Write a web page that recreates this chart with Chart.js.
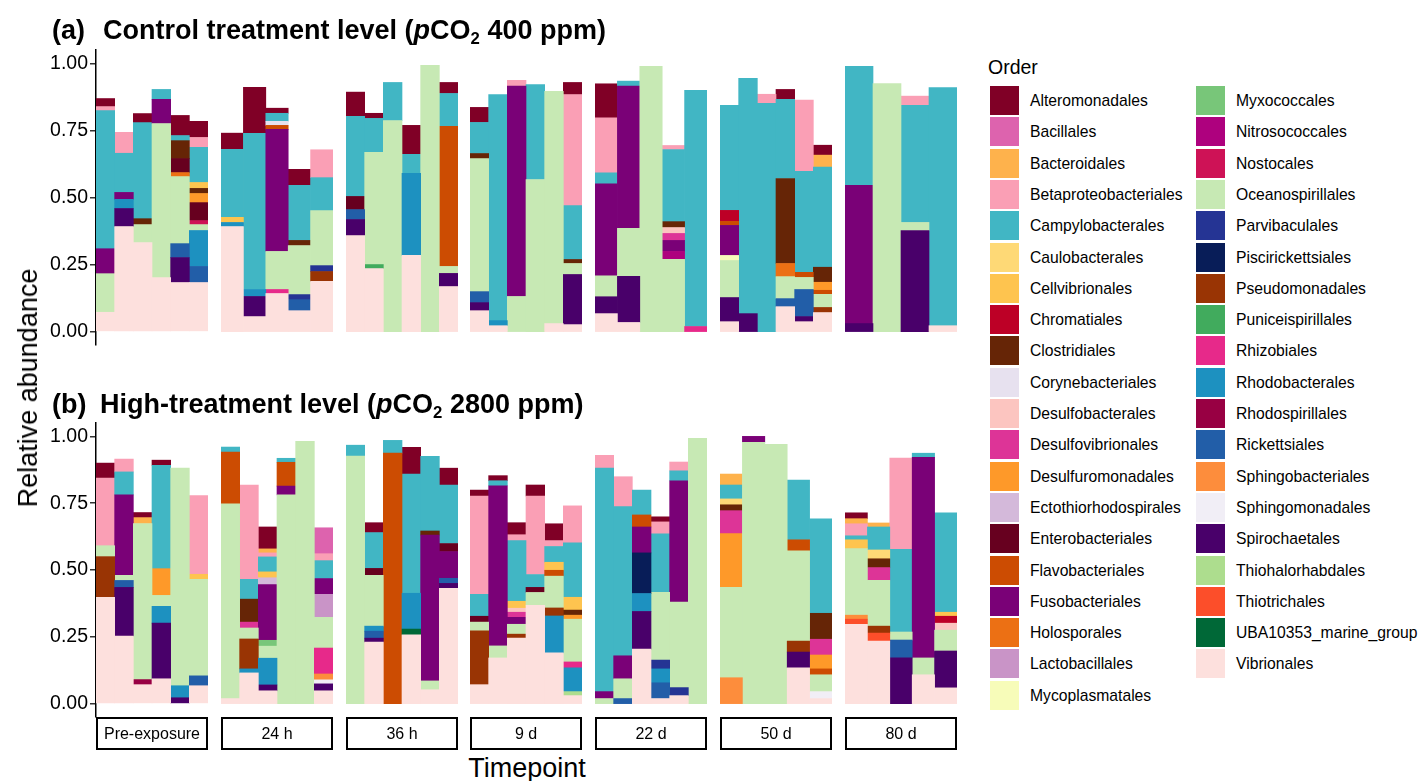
<!DOCTYPE html>
<html>
<head>
<meta charset="utf-8">
<script src="https://cdn.jsdelivr.net/npm/chart.js@4.4.1/dist/chart.umd.min.js"></script>
<style>
  body { margin: 0; background: #fff; font-family: "Liberation Sans", Arial, sans-serif; color: #000; }
  #page { position: relative; width: 1424px; height: 781px; overflow: hidden; }
  #page canvas, .abs { position: absolute; }
  .tag, .title { font-weight: bold; font-size: 27px; line-height: 30px; white-space: nowrap; }
  .title sub { font-size: 0.62em; vertical-align: -0.3em; line-height: 0; }
  .axis-title { font-size: 27px; line-height: 30px; white-space: nowrap; }
  .strip { box-sizing: border-box; border: 2px solid #000; height: 33px; font-size: 16px;
           line-height: 29px; text-align: center; }
  .key { width: 29px; height: 29px; }
  .key-label { font-size: 15.7px; line-height: 29px; white-space: nowrap; }
</style>
</head>
<body>
<div id="page"></div>
<script>
// orders (legend order) with short codes and fill colours
const orders = ['Alteromonadales', 'Bacillales', 'Bacteroidales', 'Betaproteobacteriales', 'Campylobacterales',
  'Caulobacterales', 'Cellvibrionales', 'Chromatiales', 'Clostridiales', 'Corynebacteriales', 'Desulfobacterales',
  'Desulfovibrionales', 'Desulfuromonadales', 'Ectothiorhodospirales', 'Enterobacteriales', 'Flavobacteriales',
  'Fusobacteriales', 'Holosporales', 'Lactobacillales', 'Mycoplasmatales', 'Myxococcales', 'Nitrosococcales',
  'Nostocales', 'Oceanospirillales', 'Parvibaculales', 'Piscirickettsiales', 'Pseudomonadales',
  'Puniceispirillales', 'Rhizobiales', 'Rhodobacterales', 'Rhodospirillales', 'Rickettsiales',
  'Sphingobacteriales', 'Sphingomonadales', 'Spirochaetales', 'Thiohalorhabdales', 'Thiotrichales',
  'UBA10353_marine_group', 'Vibrionales'];
const codes = ['Alt', 'Bac', 'Bct', 'Bet', 'Cam', 'Cau', 'Cel', 'Chr', 'Clo', 'Cor', 'Dsb', 'Dsv', 'Dsf', 'Ect',
  'Ent', 'Fla', 'Fus', 'Hol', 'Lac', 'Myc', 'Myx', 'Nit', 'Nos', 'Oce', 'Par', 'Pis', 'Pse', 'Pun', 'Rhi', 'Rhb',
  'Rhs', 'Ric', 'Sbc', 'Smo', 'Spi', 'Thh', 'Tht', 'UBA', 'Vib'];
const colours = ['#800026', '#dd63ae', '#feb24c', '#fa9fb5', '#41b6c4', '#fed976', '#fec44f', '#bd0026',
  '#662506', '#e7e1ef', '#fcc5c0', '#dd3497', '#fe9929', '#d4b9da', '#67001f', '#cc4c02', '#7a0177', '#ec7014',
  '#c994c7', '#f7fcb9', '#78c679', '#ae017e', '#ce1256', '#c7e9b4', '#253494', '#081d58', '#993404', '#41ab5d',
  '#e7298a', '#1d91c0', '#980043', '#225ea8', '#fd8d3c', '#f1eef6', '#49006a', '#addd8e', '#fc4e2a', '#006837',
  '#fde0dd'];

const timepoints = ['Pre-exposure', '24 h', '36 h', '9 d', '22 d', '50 d', '80 d'];
const yTicks = [0, 0.25, 0.5, 0.75, 1];

// (a) control, one object per sample
const aPre = [
  {Vib: .072, Oce: .144, Fus: .093, Cam: .515, Bet: .015, Alt: .030},
  {Vib: .392, Spi: .067, Rhb: .034, Fus: .026, Cam: .146, Bet: .078},
  {Vib: .332, Oce: .067, Clo: .022, Cam: .358, Alt: .034},
  {Vib: .201, Oce: .575, Fus: .090, Cam: .037},
  {Vib: .183, Spi: .093, Ric: .052, Oce: .250, Hol: .015, Ent: .052, Clo: .067, Cam: .019, Alt: .075},
  {Vib: .183, Ric: .060, Rhb: .134, Oce: .022, Nos: .015, Ent: .067, Dsf: .034, Clo: .019, Cel: .022, Cam: .131, Bet: .037, Alt: .060},
];
const a24h = [
  {Vib: .392, Rhb: .015, Cel: .019, Cam: .254, Alt: .060},
  {Vib: .056, Spi: .075, Rhb: .026, Cam: .582, Alt: .172},
  {Vib: .142, Rhi: .015, Oce: .142, Fus: .455, Fla: .015, Cor: .015, Cam: .030, Alt: .019},
  {Vib: .078, Ric: .041, Par: .019, Oce: .183, Clo: .019, Cam: .205, Alt: .060},
  {Vib: .187, Pse: .037, Par: .022, Oce: .205, Cam: .123, Bet: .104},
];
const a36h = [
  {Vib: .358, Spi: .060, Ric: .037, Ent: .049, Cam: .299, Alt: .090},
  {Vib: .235, Pun: .015, Oce: .418, Cam: .127, Alt: .019},
  {Oce: .787, Cam: .142},
  {Vib: .284, Rhb: .306, Cam: .071, Alt: .108},
  {Oce: .993},
  {Vib: .168, Spi: .049, Oce: .026, Fla: .522, Cam: .123, Alt: .041},
];
const a9d = [
  {Vib: .078, Spi: .030, Ric: .041, Oce: .496, Clo: .019, Cam: .116, Alt: .056},
  {Vib: .022, Rhb: .019, Cam: .843},
  {Oce: .131, Fus: .784, Bet: .022},
  {Oce: .567, Cam: .354},
  {Vib: .030, Oce: .866},
  {Vib: .026, Spi: .187, Oce: .041, Clo: .015, Cam: .201, Bet: .414, Alt: .045},
];
const a22d = [
  {Vib: .067, Spi: .063, Oce: .078, Fus: .343, Cam: .041, Bet: .205, Alt: .127},
  {Vib: .034, Spi: .172, Oce: .179, Fus: .530, Cam: .019},
  {Oce: .989},
  {Oce: .269, Nit: .030, Fus: .041, Dsv: .026, Dsb: .022, Clo: .022, Cam: .269, Bet: .015},
  {Rhi: .019, Cam: .881},
];
const a50d = [
  {Vib: .037, Spi: .090, Oce: .138, Myc: .019, Fus: .112, Fla: .015, Chr: .041, Cam: .392},
  {Spi: .067, Cam: .877},
  {Cam: .851, Bet: .034},
  {Vib: .093, Ric: .030, Oce: .082, Hol: .049, Clo: .317, Cam: .295, Alt: .037},
  {Vib: .037, Spi: .019, Ric: .101, Oce: .045, Fla: .019, Cam: .377, Bet: .265},
  {Vib: .071, Pse: .019, Oce: .049, Fla: .015, Dsf: .030, Clo: .056, Cam: .373, Bct: .045, Alt: .037},
];
const a80d = [
  {Spi: .030, Fus: .515, Cam: .444},
  {Oce: .925},
  {Spi: .377, Oce: .030, Cam: .437, Bet: .034},
  {Vib: .022, Cam: .888},
];

// (b) high treatment
const bPre = [
  {Vib: .398, Pse: .152, Oce: .041, Bet: .253, Alt: .056},
  {Vib: .253, Spi: .182, Ric: .026, Oce: .019, Fus: .301, Cam: .086, Bet: .048},
  {Vib: .071, Rhs: .019, Oce: .584, Bct: .022, Alt: .019},
  {Vib: .093, Spi: .208, Rhb: .063, Oce: .041, Dsf: .100, Cam: .387, Alt: .019},
  {Spi: .022, Rhb: .045, Oce: .814},
  {Vib: .067, Ric: .037, Oce: .361, Cel: .019, Bet: .294},
];
const b24h = [
  {Vib: .019, Oce: .729, Fla: .193, Cam: .019},
  {Vib: .115, Rhb: .015, Pse: .112, Oce: .041, Dsv: .022, Clo: .086, Cam: .074, Bet: .353},
  {Vib: .048, Spi: .022, Rhb: .100, Oce: .045, Myx: .022, Fus: .208, Ect: .026, Cel: .022, Cam: .056, Bet: .015, Bct: .015, Alt: .082},
  {Oce: .781, Fus: .033, Fla: .089, Cam: .015},
  {Oce: .981},
  {Vib: .048, Spi: .026, Smo: .015, Sbc: .022, Rhi: .097, Oce: .115, Lac: .086, Fus: .059, Cam: .067, Bet: .026, Bac: .097},
];
const b36h = [
  {Oce: .926, Cam: .041},
  {Vib: .230, Spi: .015, Ric: .026, Rhb: .019, Oce: .190, Ent: .026, Cam: .134, Alt: .037},
  {Fla: .937, Cam: .048},
  {Vib: .257, UBA: .022, Rhb: .134, Cam: .446, Alt: .100},
  {Vib: .052, Oce: .033, Fus: .546, Clo: .015, Cam: .279},
  {Vib: .431, Spi: .019, Ric: .019, Fus: .100, Ent: .030, Cam: .219, Alt: .063},
];
const b9d = [
  {Vib: .071, Pse: .201, Oce: .033, Ent: .022, Cam: .082, Bet: .368, Alt: .022},
  {Vib: .171, Oce: .045, Fus: .599, Cam: .019, Alt: .019},
  {Vib: .245, Pse: .015, Oce: .037, Fus: .026, Dsv: .019, Dsb: .015, Cel: .026, Cam: .227, Bet: .022, Alt: .045},
  {Vib: .368, Oce: .048, Ent: .019, Cam: .048, Bet: .294, Alt: .041},
  {Vib: .190, Rhb: .138, Pse: .030, Oce: .119, Fla: .022, Cel: .030, Cam: .059, Bet: .022, Alt: .063},
  {Vib: .030, Thh: .015, Rhb: .089, Rhi: .022, Oce: .160, Dsf: .015, Clo: .019, Cel: .048, Cam: .204, Bet: .138},
];
const b22d = [
  {Oce: .019, Fus: .026, Cam: .836, Bet: .048},
  {Ric: .019, Oce: .074, Fus: .086, Cam: .558, Bet: .112},
  {Vib: .204, Spi: .141, Rhb: .067, Pis: .152, Fus: .097, Fla: .045, Cam: .093},
  {Vib: .019, Ric: .059, Rhb: .052, Par: .033, Oce: .253, Cam: .219, Bet: .045, Alt: .019},
  {Vib: .030, Par: .030, Oce: .320, Fus: .454, Cam: .037, Bet: .033},
  {Oce: .993},
];
const b50d = [
  {Sbc: .097, Oce: .338, Dsf: .201, Dsv: .086, Clo: .022, Cau: .022, Cam: .052, Bct: .041},
  {Oce: .978, Fus: .022},
  {Oce: .970},
  {Vib: .134, Spi: .059, Pse: .041, Oce: .338, Fla: .041, Cam: .223},
  {Vib: .019, Smo: .026, Oce: .063, Fla: .022, Dsf: .052, Dsv: .059, Clo: .097, Cam: .353},
];
const b80d = [
  {Vib: .297, Tht: .019, Sbc: .015, Oce: .249, Cel: .033, Cam: .015, Bet: .045, Bct: .019, Alt: .022},
  {Vib: .234, Tht: .030, Pse: .026, Oce: .171, Dsv: .048, Clo: .033, Cau: .033, Cam: .086, Bct: .015},
  {Spi: .171, Ric: .067, Oce: .030, Cam: .309, Bet: .342},
  {Vib: .108, Oce: .063, Fus: .751, Cam: .015},
  {Vib: .059, Spi: .138, Oce: .078, Dsb: .026, Chr: .026, Cel: .015, Cam: .372},
];

const panelA = [aPre, a24h, a36h, a9d, a22d, a50d, a80d];
const panelB = [bPre, b24h, b36h, b9d, b22d, b50d, b80d];

// layout
const page = document.getElementById('page');
const facetX0 = 96, facetStep = 124.8, facetW = 112;
const axisW = 56, pad = 15;
const fontFam = '"Liberation Sans", Arial, sans-serif';

function addDiv(cls, html, style) {
  const d = document.createElement('div');
  d.className = 'abs ' + cls;
  d.innerHTML = html;
  Object.assign(d.style, style);
  page.appendChild(d);
  return d;
}

// ggplot stacks the first level on top, so go bottom-up from the end
const stackCodes = codes.slice().reverse();

function drawFacet(samples, idx, top, height) {
  const first = idx === 0;
  const left = Math.round(facetX0 + facetStep * idx) - (first ? axisW : 0);
  const canvas = document.createElement('canvas');
  canvas.width = facetW + (first ? axisW : 0);
  canvas.height = height + 2 * pad;
  canvas.style.left = left + 'px';
  canvas.style.top = (top - pad) + 'px';
  page.appendChild(canvas);

  new Chart(canvas, {
    type: 'bar',
    data: {
      labels: samples.map((s, i) => 'S' + (i + 1)),
      datasets: stackCodes.map(code => {
        const k = codes.indexOf(code);
        return {
          label: orders[k],
          data: samples.map(s => (s[code] === undefined ? null : s[code])),
          backgroundColor: colours[k],
          borderWidth: 0,
          categoryPercentage: 1,
          barPercentage: 1
        };
      })
    },
    options: {
      responsive: false,
      animation: false,
      layout: { padding: { top: pad, bottom: pad, left: 0, right: 0 } },
      plugins: { legend: { display: false }, tooltip: { enabled: false } },
      scales: {
        x: { stacked: true, display: false },
        y: {
          stacked: true,
          min: -0.05,
          max: 1.05,
          display: first,
          afterBuildTicks: s => { s.ticks = yTicks.map(v => ({ value: v })); },
          afterFit: s => { s.width = first ? axisW : 0; },
          border: { display: true, color: '#000', width: 1.5 },
          grid: { drawOnChartArea: false, drawTicks: true, tickLength: 6, color: '#333', lineWidth: 1.5 },
          ticks: {
            padding: 2,
            color: '#000',
            font: { family: fontFam, size: 19.5 },
            callback: v => v.toFixed(2)
          }
        }
      }
    }
  });
}

function drawPanel(facets, top, height) {
  facets.forEach((samples, i) => drawFacet(samples, i, top, height));
}

drawPanel(panelA, 50, 295);
drawPanel(panelB, 423, 294);

// panel titles
addDiv('tag', '(a)', { left: '52px', top: '15px' });
addDiv('title', 'Control treatment level (<i>p</i>CO<sub>2</sub> 400 ppm)', { left: '103px', top: '15px' });
addDiv('tag', '(b)', { left: '52px', top: '389px' });
addDiv('title', 'High-treatment level (<i>p</i>CO<sub>2</sub> 2800 ppm)', { left: '100px', top: '389px' });

// strips under panel b
timepoints.forEach((t, i) => {
  addDiv('strip', t, {
    left: Math.round(facetX0 + facetStep * i) + 'px',
    top: '717px',
    width: facetW + 'px'
  });
});

// axis titles
addDiv('axis-title', 'Timepoint', { left: '527px', top: '753px', transform: 'translateX(-50%)' });
addDiv('axis-title', 'Relative abundance', {
  left: '28px', top: '388px', transform: 'translate(-50%, -50%) rotate(-90deg)'
});

// legend
addDiv('axis-title', 'Order', { left: '988px', top: '52px', fontSize: '19.5px' });
orders.forEach((name, i) => {
  const col = i < 20 ? 0 : 1;
  const row = col ? i - 20 : i;
  const y = 86 + row * 31.3;
  const x = col ? 1196 : 990;
  addDiv('key', '', { left: x + 'px', top: y + 'px', background: colours[i] });
  addDiv('key-label', name, { left: (x + 40) + 'px', top: y + 'px' });
});
</script>
</body>
</html>
